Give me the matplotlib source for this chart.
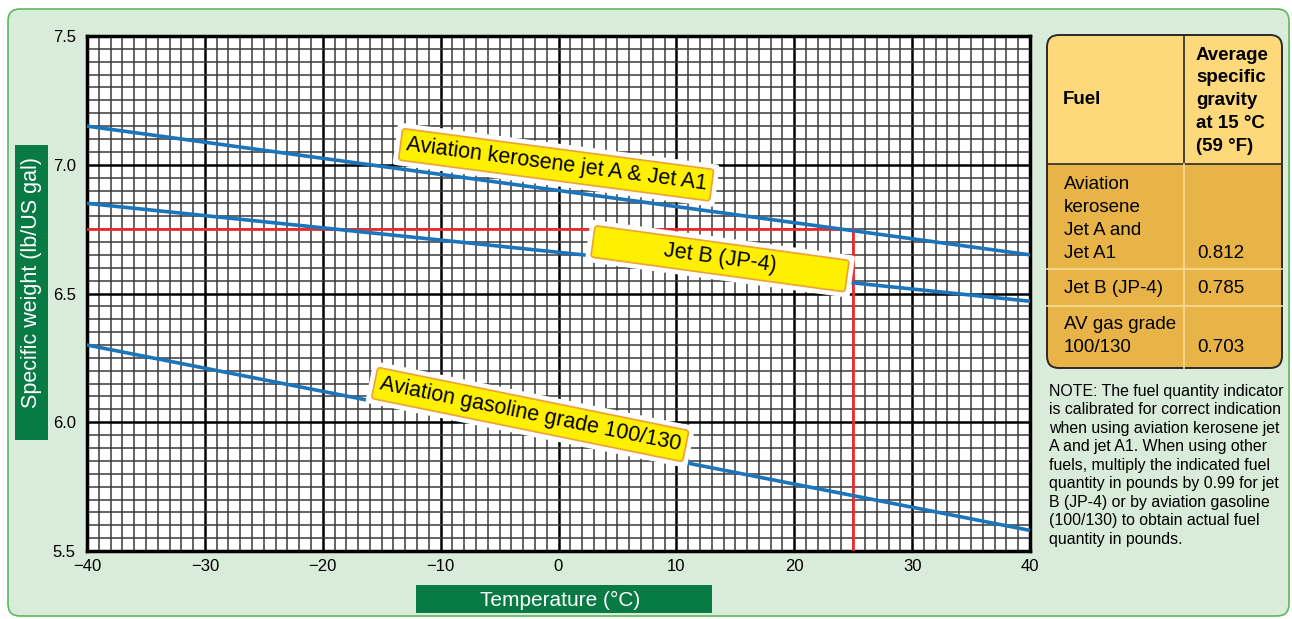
import matplotlib.pyplot as plt
from matplotlib.patches import FancyBboxPatch, Rectangle
from matplotlib.ticker import MultipleLocator

plt.rcParams['font.family'] = ['Liberation Sans', 'DejaVu Sans']

# data
temperature = [-40, 40]
kerosene = [7.15, 6.65]
jet_b = [6.85, 6.47]
avgas = [6.30, 5.58]
guide_temp = 25
guide_weight = 6.75

x_ticks = [-40, -30, -20, -10, 0, 10, 20, 30, 40]
y_ticks = [5.5, 6.0, 6.5, 7.0, 7.5]

table_fuels = ['Aviation\nkerosene\nJet A and\nJet A1', 'Jet B (JP-4)', 'AV gas grade\n100/130']
table_gravity = ['0.812', '0.785', '0.703']

note = ('NOTE: The fuel quantity indicator\n'
        'is calibrated for correct indication\n'
        'when using aviation kerosene jet\n'
        'A and jet A1. When using other\n'
        'fuels, multiply the indicated fuel\n'
        'quantity in pounds by 0.99 for jet\n'
        'B (JP-4) or by aviation gasoline\n'
        '(100/130) to obtain actual fuel\n'
        'quantity in pounds.')

W, H = 1292, 619
fig = plt.figure(figsize=(W / 100, H / 100), dpi=100)
fig.patch.set_facecolor('white')

# background layer in pixel units
bg = fig.add_axes([0, 0, 1, 1])
bg.set_xlim(0, W)
bg.set_ylim(H, 0)
bg.axis('off')
bg.add_patch(FancyBboxPatch((8, 9), 1281, 607, boxstyle='round,pad=0,rounding_size=12',
                            fc='#d9ebd9', ec='#5cb85c', lw=1.2))

# axis title boxes
bg.add_patch(Rectangle((15, 145), 33, 295, fc='#087a43', ec='none'))
bg.text(32, 282, 'Specific weight (lb/US gal)', color='white', fontsize=15.5,
        rotation=90, ha='center', va='center')
bg.add_patch(Rectangle((416, 585), 296, 28, fc='#087a43', ec='none'))
bg.text(560, 600, 'Temperature (°C)', color='white', fontsize=15, ha='center', va='center')

# table
tl, tr, tt, tb = 1047, 1282, 35, 368
col_x = 1184
head_b = 164
outline = FancyBboxPatch((tl, tt), tr - tl, tb - tt, boxstyle='round,pad=0,rounding_size=12',
                         fc='#e8b447', ec='none')
bg.add_patch(outline)
head = Rectangle((tl, tt), tr - tl, head_b - tt, fc='#fdd97c', ec='none')
bg.add_patch(head)
head.set_clip_path(outline)
bg.plot([col_x, col_x], [tt, head_b], color='#2a2a2a', lw=1.2)
bg.plot([tl, tr], [head_b, head_b], color='#2a2a2a', lw=1.2)
bg.plot([col_x, col_x], [head_b, tb], color='#f6dc9a', lw=1.2)
for ry in [269, 306]:
    bg.plot([tl, tr], [ry, ry], color='#f6dc9a', lw=1.2)
bg.add_patch(FancyBboxPatch((tl, tt), tr - tl, tb - tt, boxstyle='round,pad=0,rounding_size=12',
                            fc='none', ec='#2a2a2a', lw=1.4))

bg.text(1063, 99, 'Fuel', fontsize=13.5, fontweight='bold', ha='left', va='center')
bg.text(1196, 151, 'Average\nspecific\ngravity\nat 15 °C\n(59 °F)', fontsize=13.5,
        fontweight='bold', ha='left', va='baseline', linespacing=1.45)
row_bottoms = [258, 293, 352]
for fuel, grav, yb in zip(table_fuels, table_gravity, row_bottoms):
    bg.text(1064, yb, fuel, fontsize=13.5, ha='left', va='baseline', linespacing=1.45)
    bg.text(1197, yb, grav, fontsize=13.5, ha='left', va='baseline')

bg.text(1049, 384, note, fontsize=11.4, ha='left', va='top', linespacing=1.29)

# main chart
ax = fig.add_axes([87 / W, 1 - 551 / H, (1030 - 87) / W, (551 - 36) / H])
ax.set_facecolor('white')
ax.set_xlim(-40, 40)
ax.set_ylim(5.5, 7.5)
ax.set_xticks(x_ticks)
ax.set_yticks(y_ticks)
ax.set_xticklabels([f'{t}'.replace('-', '\u2212') for t in x_ticks])
ax.set_yticklabels([f'{v:.1f}' for v in y_ticks])
ax.xaxis.set_minor_locator(MultipleLocator(1))
ax.yaxis.set_minor_locator(MultipleLocator(0.05))
ax.tick_params(which='both', length=0, labelsize=12)
ax.tick_params(axis='x', pad=6)
ax.tick_params(axis='y', pad=8)
ax.grid(which='minor', color='#3a3a3a', lw=1.1, zorder=1)
ax.grid(which='major', color='black', lw=1.8, zorder=1)
ax.set_axisbelow(True)
for s in ax.spines.values():
    s.set_linewidth(2.5)
    s.set_color('black')

ax.plot([temperature[0], guide_temp], [guide_weight, guide_weight], color='#ee2b2b', lw=2, zorder=3)
ax.plot([guide_temp, guide_temp], [guide_weight, 5.5], color='#ee2b2b', lw=2, zorder=3)

for series in [kerosene, jet_b, avgas]:
    ax.plot(temperature, series, color='#1b75bb', lw=2.6, zorder=4)

pad_jb = ' ' * 11
labels = [
    ('Aviation kerosene jet A & Jet A1', -0.2, 7.0, -7.5),
    (pad_jb + 'Jet B (JP-4)' + pad_jb, 13.7, 6.635, -7.8),
    ('Aviation gasoline grade 100/130', -2.4, 6.03, -11.5),
]
for txt, lx, ly, rot in labels:
    # white halo behind the yellow tag
    ax.text(lx, ly, txt, fontsize=15.5, rotation=rot, rotation_mode='anchor',
            ha='center', va='center', color='none', zorder=5,
            bbox=dict(boxstyle='round,pad=0.5,rounding_size=0.15', fc='white', ec='none'))
    ax.text(lx, ly, txt, fontsize=15.5, rotation=rot, rotation_mode='anchor',
            ha='center', va='center', color='black', zorder=6,
            bbox=dict(boxstyle='round,pad=0.25,rounding_size=0.15', fc='#fff000', ec='#f0a035', lw=1.2))

plt.savefig('out.png', dpi=100)
